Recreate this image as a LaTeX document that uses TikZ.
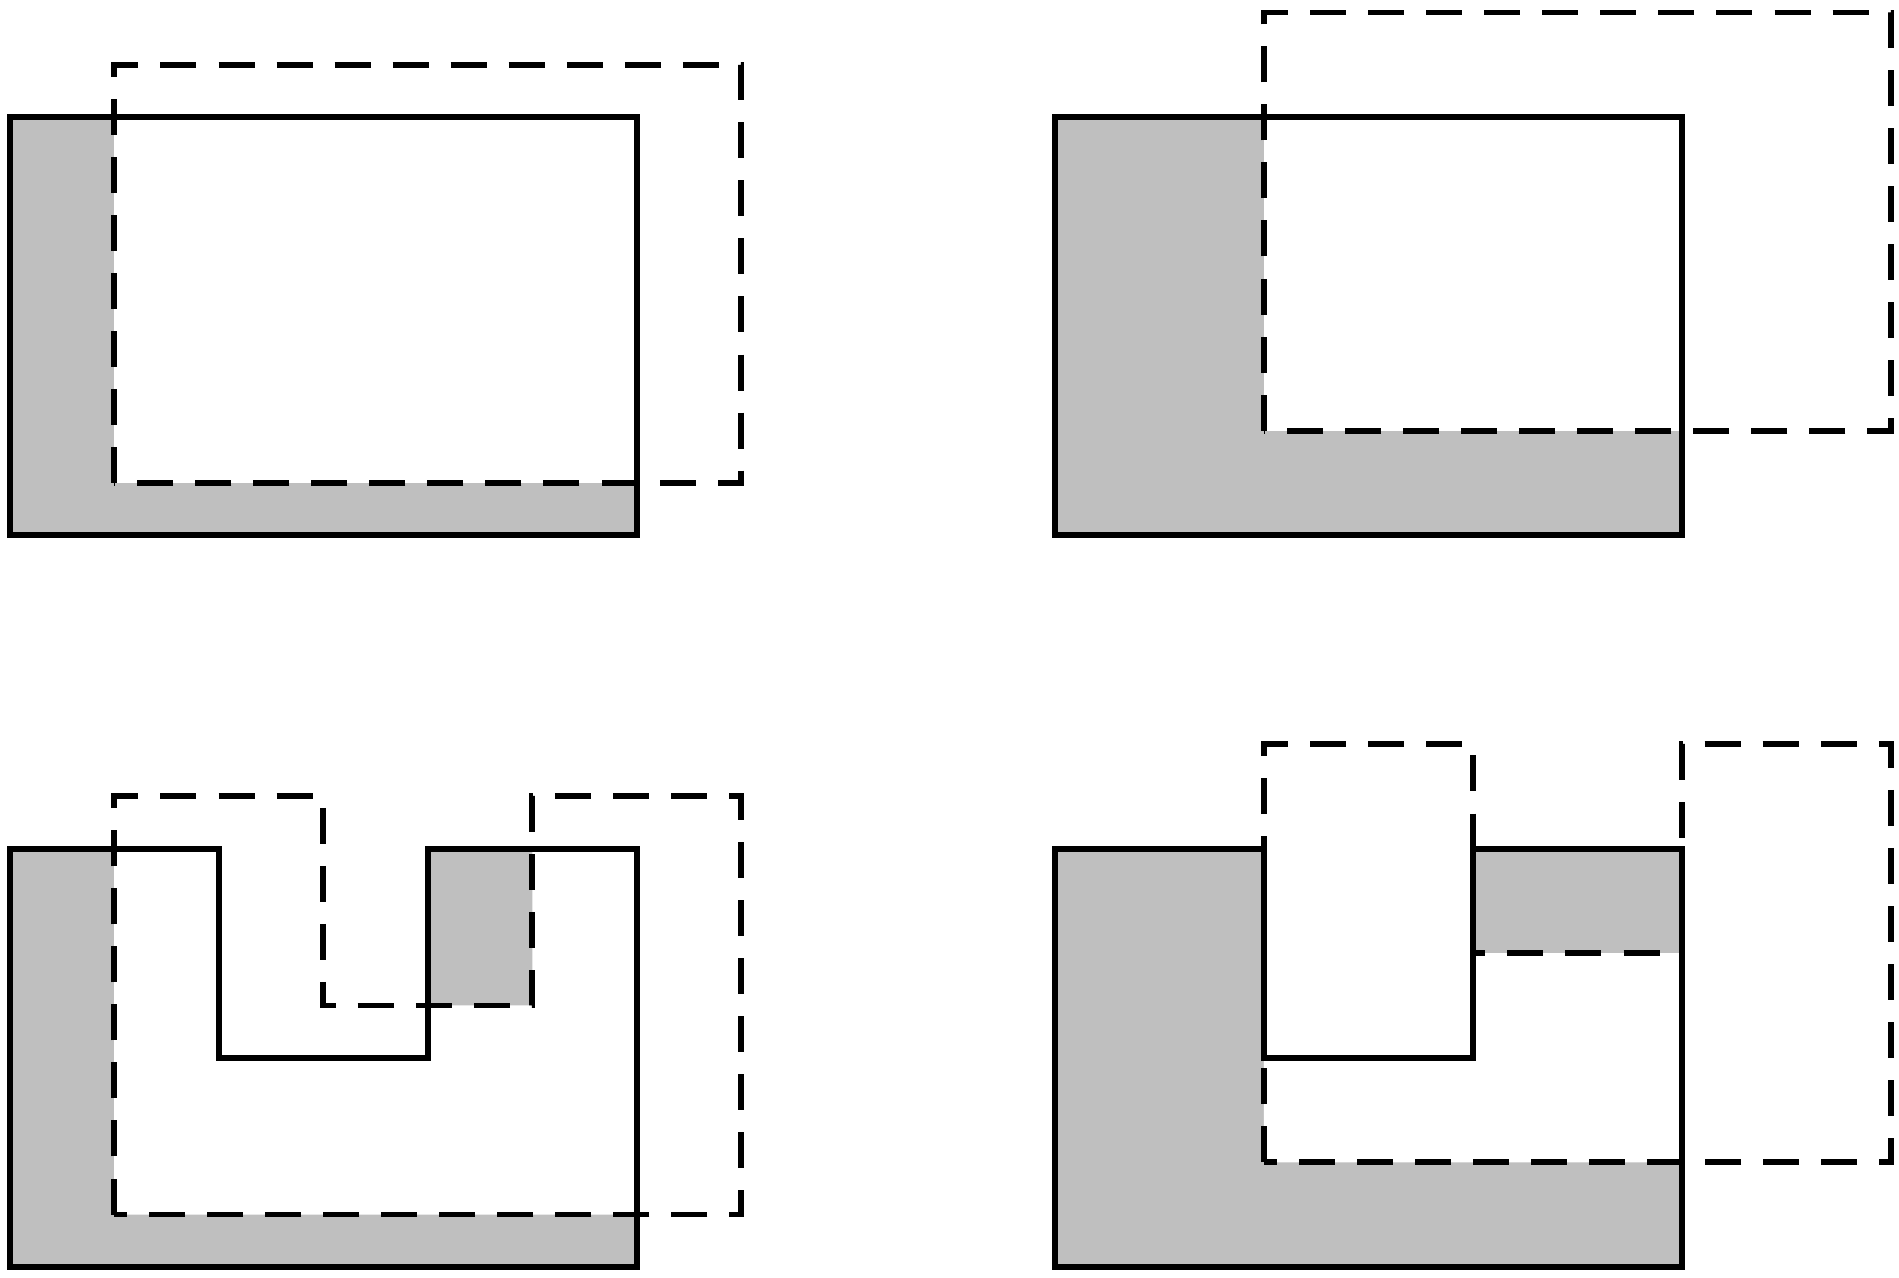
\documentclass[tikz,border=0pt]{standalone}
\usepackage{xcolor}
\tikzset{
  solidpart/.style={line width=1.7pt},
  movedpart/.style={line width=1.6pt, dash pattern=on 9.8pt off 6pt},
  leftover/.style={fill=black!25},
  cleared/.style={fill=white},
}

\begin{document}
\begin{tikzpicture}
\useasboundingbox (-0.093,-0.104) rectangle (18.076,12.12);
% top left: rectangle, moved by (1,0.5)
\fill[leftover] (0,7) rectangle (6,11);
\fill[cleared] (1,7.5) rectangle (7,11.5);
\draw[solidpart] (0,7) rectangle (6,11);
\draw[movedpart] (1,7.5) rectangle (7,11.5);
% top right: rectangle, moved by (2,1)
\fill[leftover] (10,7) rectangle (16,11);
\fill[cleared] (12,8) rectangle (18,12);
\draw[solidpart] (10,7) rectangle (16,11);
\draw[movedpart] (12,8) rectangle (18,12);
% bottom left: notched block, moved by (1,0.5)
\fill[leftover] (0,0) -- (0,4) -- (2,4) -- (2,2) -- (4,2) -- (4,4) -- (6,4) -- (6,0) -- cycle;
\fill[cleared] (1,0.5) -- (1,4.5) -- (3,4.5) -- (3,2.5) -- (5,2.5) -- (5,4.5) -- (7,4.5) -- (7,0.5) -- cycle;
\draw[solidpart] (0,0) -- (0,4) -- (2,4) -- (2,2) -- (4,2) -- (4,4) -- (6,4) -- (6,0) -- cycle;
\draw[movedpart] (1,0.5) -- (1,4.5) -- (3,4.5) -- (3,2.5) -- (5,2.5) -- (5,4.5) -- (7,4.5) -- (7,0.5) -- cycle;
% bottom right: notched block, moved by (2,1)
\fill[leftover] (10,0) -- (10,4) -- (12,4) -- (12,2) -- (14,2) -- (14,4) -- (16,4) -- (16,0) -- cycle;
\fill[cleared] (12,1) -- (12,5) -- (14,5) -- (14,3) -- (16,3) -- (16,5) -- (18,5) -- (18,1) -- cycle;
\draw[solidpart] (10,0) -- (10,4) -- (12,4) -- (12,2) -- (14,2) -- (14,4) -- (16,4) -- (16,0) -- cycle;
\draw[movedpart] (12,1) -- (12,5) -- (14,5) -- (14,3) -- (16,3) -- (16,5) -- (18,5) -- (18,1) -- cycle;
\end{tikzpicture}
\end{document}
